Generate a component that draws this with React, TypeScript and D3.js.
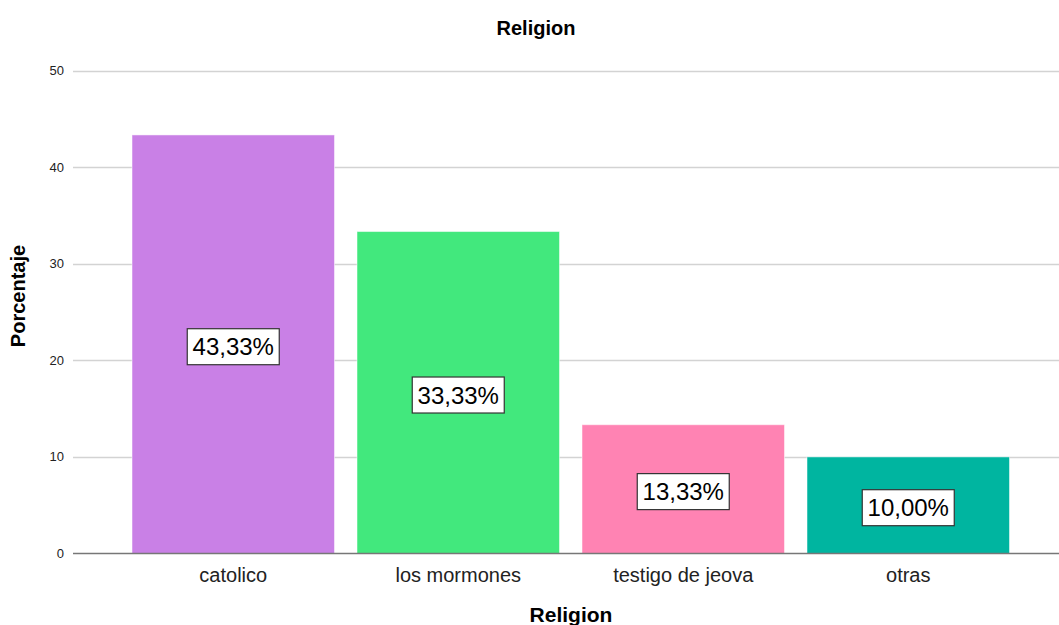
import React from "react";
import * as d3 from "d3";

const categories = ["catolico", "los mormones", "testigo de jeova", "otras"];
const values = [43.33, 33.33, 13.33, 10.0];
const colors = ["#C980E6", "#42E87D", "#FF83B3", "#00B5A0"];
const yTicks = [0, 10, 20, 30, 40, 50];

const W = 1059;
const H = 625;

export default function App() {
  const y = d3.scaleLinear().domain([0, 50]).range([553.5, 70.5]);
  const x = d3
    .scaleBand<string>()
    .domain(categories)
    .range([120.75, 1020.75])
    .paddingInner(0.1)
    .paddingOuter(0.05);
  const font = "Arial, 'Liberation Sans', sans-serif";
  return (
    <svg width={W} height={H} style={{ position: "absolute", left: 0, top: 0, background: "#fff" }} fontFamily={font}>
      <rect width={W} height={H} fill="#fff" />
      <text x={536} y={35} textAnchor="middle" fontSize={20} fontWeight="bold" fill="#000">Religion</text>
      {yTicks.map((t) => (
        <g key={t}>
          {t !== 0 && <line x1={73} x2={W} y1={Math.round(y(t)) + 0.5} y2={Math.round(y(t)) + 0.5} stroke="#d3d3d3" strokeWidth={1.5} />}
          <text x={64} y={y(t) + 4.5} textAnchor="end" fontSize={13} fill="#222">{t}</text>
        </g>
      ))}
      {categories.map((c, i) => {
        const x0 = x(c)!;
        const bw = x.bandwidth();
        const yt = y(values[i]);
        const cy = (yt + y(0)) / 2 + 2.5;
        const label = values[i].toFixed(2).replace(".", ",") + "%";
        return (
          <g key={c}>
            <rect x={x0} y={yt} width={bw} height={y(0) - yt} fill={colors[i]} stroke="#ffffff" strokeOpacity={0.5} strokeWidth={1} />
            <rect x={x0 + bw / 2 - 46} y={cy - 18} width={92} height={36} fill="#fff" stroke="#333" strokeWidth={1.2} />
            <text x={x0 + bw / 2} y={cy + 8.5} textAnchor="middle" fontSize={24} fill="#000">{label}</text>
            <text x={x0 + bw / 2} y={582} textAnchor="middle" fontSize={20} fill="#222">{c}</text>
          </g>
        );
      })}
      <line x1={73} x2={W} y1={553.5} y2={553.5} stroke="#777" strokeWidth={1.5} />
      <text x={571} y={622} textAnchor="middle" fontSize={21} fontWeight="bold" fill="#000">Religion</text>
      <text transform={`translate(25,296) rotate(-90)`} textAnchor="middle" fontSize={20} fontWeight="bold" fill="#000">Porcentaje</text>
    </svg>
  );
}
